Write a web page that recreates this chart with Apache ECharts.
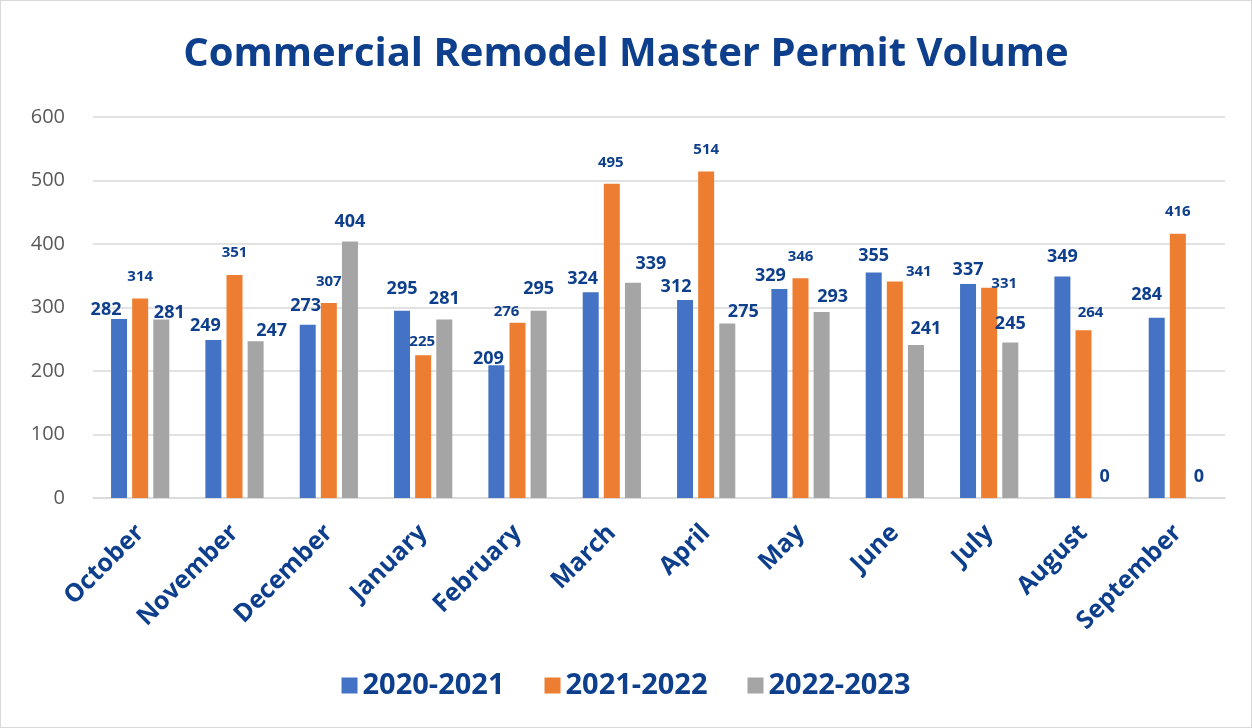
<!DOCTYPE html>
<html>
<head>
<meta charset="utf-8">
<script src="https://cdn.jsdelivr.net/npm/echarts@6/dist/echarts.min.js"></script>
<style>
  html, body { margin: 0; padding: 0; background: #fff; }
  #main { width: 1250px; height: 726px; border: 1px solid #d9d9d9; }
</style>
</head>
<body>
<div id="main"></div>
<script>
const months = ['October', 'November', 'December', 'January', 'February', 'March',
  'April', 'May', 'June', 'July', 'August', 'September'];
const fy2021 = [282, 249, 273, 295, 209, 324, 312, 329, 355, 337, 349, 284];
const fy2122 = [314, 351, 307, 225, 276, 495, 514, 346, 341, 331, 264, 416];
const fy2223 = [281, 247, 404, 281, 295, 339, 275, 293, 241, 245, 0, 0];
const seriesNames = ['2020-2021', '2021-2022', '2022-2023'];
const yTicks = [0, 100, 200, 300, 400, 500, 600];

// hand-placed label nudges in the original, [dx, dy] per month
const nudge2021 = [[-13, 10], [-8, 5], [-2, 0], [0, -3], [-8, 13], [-8, 6],
  [-9, 6], [-9, 6], [0, 2], [0, 5], [0, -1], [-10, -4]];
const nudge2122 = [[0, 0], [0, -1], [0, 0], [-1, 8], [-11, 10], [-1, 1],
  [0, 0], [0, 0], [24, 12], [15, 17], [7, 4], [0, -1]];
const nudge2223 = [[8, 12], [16, 9], [0, -1], [0, -2], [0, -3], [18, 0],
  [16, 7], [11, 4], [10, 3], [0, 0], [0, -2], [0, -2]];

const labelBlue = '#0e3f8c';
const fontFam = '"Open Sans", "Noto Sans", sans-serif';

const chart = echarts.init(document.getElementById('main'));

function barSeries(name, values, nudges, color, size, dist) {
  return {
    name: name,
    type: 'bar',
    data: values.map((v, i) => ({ value: v, label: { offset: nudges[i] } })),
    barWidth: 16,
    barGap: '32%',
    itemStyle: { color: color },
    label: {
      show: true,
      position: 'top',
      distance: dist,
      color: labelBlue,
      fontWeight: 'bold',
      fontSize: size,
      fontFamily: fontFam
    }
  };
}

const option = {
  backgroundColor: '#ffffff',
  animation: false,
  title: {
    text: 'Commercial Remodel Master Permit Volume',
    left: 'center',
    top: 29,
    textStyle: {
      color: labelBlue,
      fontSize: 40,
      fontWeight: 'bold',
      fontFamily: fontFam
    }
  },
  legend: {
    bottom: 22,
    left: 'center',
    itemWidth: 16,
    itemHeight: 16,
    itemGap: 40,
    icon: 'rect',
    textStyle: {
      color: labelBlue,
      fontSize: 29,
      fontWeight: 'bold',
      fontFamily: fontFam
    }
  },
  grid: {
    left: 92,
    right: 26,
    top: 116,
    bottom: 229,
    containLabel: false
  },
  xAxis: {
    type: 'category',
    data: months,
    axisTick: { show: false },
    axisLine: { show: true, lineStyle: { color: '#d9d9d9', width: 1.5 } },
    axisLabel: {
      rotate: 45,
      interval: 0,
      margin: 31,
      color: labelBlue,
      fontSize: 25,
      fontWeight: 'bold',
      fontFamily: fontFam
    }
  },
  yAxis: {
    type: 'value',
    min: yTicks[0],
    max: yTicks[yTicks.length - 1],
    interval: 100,
    axisLine: { show: false },
    axisTick: { show: false },
    splitLine: { lineStyle: { color: '#d9d9d9', width: 1.5 } },
    axisLabel: {
      margin: 28,
      color: '#595959',
      fontSize: 20,
      fontFamily: fontFam
    }
  },
  series: [
    barSeries(seriesNames[0], fy2021, nudge2021, '#4472c4', 18, 10),
    barSeries(seriesNames[1], fy2122, nudge2122, '#ed7d31', 15, 14),
    barSeries(seriesNames[2], fy2223, nudge2223, '#a5a5a5', 18, 10)
  ]
};

chart.setOption(option);
</script>
</body>
</html>
